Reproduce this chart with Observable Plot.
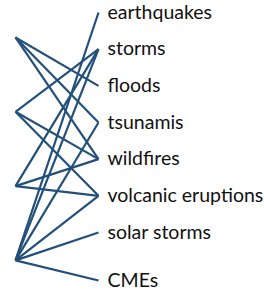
<!DOCTYPE html>
<html><head><meta charset="utf-8">
<script src="https://cdn.jsdelivr.net/npm/d3@7"></script>
<script src="https://cdn.jsdelivr.net/npm/@observablehq/plot@0.6"></script>
<style>html,body{margin:0;padding:0;background:#fff;overflow:hidden;}</style>
</head><body><div id="chart"></div>
<script>
// Left-hand (unlabelled) group nodes, top to bottom
const groups = ["g1", "g2", "g3", "g4"];
// Right-hand hazard labels, top to bottom
const hazards = ["earthquakes", "storms", "floods", "tsunamis", "wildfires", "volcanic eruptions", "solar storms", "CMEs"];
// Links: group -> hazard
const linkGroup  = ["g1", "g1", "g1", "g2", "g2", "g2", "g3", "g3", "g3", "g4", "g4", "g4", "g4", "g4", "g4"];
const linkHazard = ["floods", "tsunamis", "wildfires", "storms", "wildfires", "volcanic eruptions", "storms", "wildfires", "volcanic eruptions", "earthquakes", "storms", "tsunamis", "volcanic eruptions", "solar storms", "CMEs"];

// Layout (in label-row units): hazards one row apart, with a wider gap before the last;
// groups two rows apart, offset between hazard rows.
const hazardRow = h => { const i = hazards.indexOf(h); return i < hazards.length - 1 ? i : i + 0.31; };
const groupRow = g => 0.68 + 2.027 * groups.indexOf(g);

const links = linkGroup.map((g, i) => ({g, h: linkHazard[i]}));
const labels = hazards.map(h => ({h}));

const color = "#23507a";

const chart = Plot.plot({
  width: 264,
  height: 290,
  marginTop: 0, marginRight: 0, marginBottom: 0, marginLeft: 0,
  x: {axis: null, domain: [0, 1], range: [15, 98]},
  y: {axis: null, domain: [0, 6], range: [12, 232]},
  style: {fontFamily: "Lato, 'Open Sans', sans-serif", background: "#fff"},
  marks: [
    Plot.link(links, {
      x1: () => 0, y1: d => groupRow(d.g),
      x2: () => 1, y2: d => hazardRow(d.h),
      stroke: color, strokeWidth: 2.2, strokeLinecap: "butt"
    }),
    Plot.text(labels, {
      x: () => 1, y: d => hazardRow(d.h), text: "h",
      textAnchor: "start", dx: 9, fontSize: 19.5, fill: "#111"
    })
  ]
});
document.getElementById("chart").appendChild(chart);
</script>
</body></html>
